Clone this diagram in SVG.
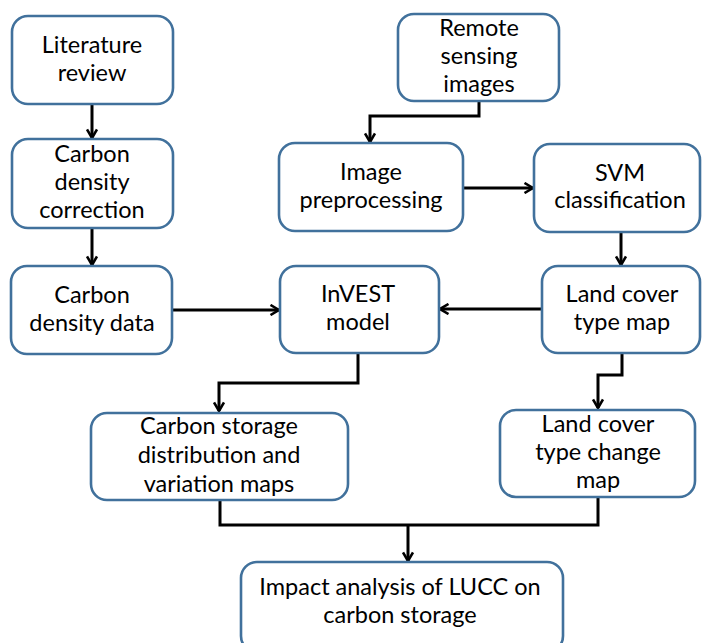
<svg xmlns="http://www.w3.org/2000/svg" width="702" height="643" viewBox="0 0 702 643">
<defs>
<marker id="arr" viewBox="0 0 12 12" refX="10.5" refY="6" markerWidth="12" markerHeight="12" markerUnits="userSpaceOnUse" orient="auto">
<path d="M2,1 L10.5,6 L2,11" fill="none" stroke="#000" stroke-width="2.6"/>
</marker>
<style>
.box{fill:#fff;stroke:#41719C;stroke-width:2.6}
.t{font-family:Lato,"Liberation Sans",sans-serif;font-size:23.5px;fill:#000;text-anchor:middle}
.c{fill:none;stroke:#000;stroke-width:3;marker-end:url(#arr)}
.l{fill:none;stroke:#000;stroke-width:3}
</style>
</defs>
<rect width="702" height="643" fill="#fff"/>
<g id="connectors">
<path class="c" d="M92,104 V138"/>
<path class="c" d="M92,228 V265"/>
<path class="c" d="M479,101 V116 H370 V142"/>
<path class="c" d="M463,188 H533"/>
<path class="c" d="M621,232 V265"/>
<path class="c" d="M172,310 H279"/>
<path class="c" d="M542,309 H440"/>
<path class="c" d="M358,353 V383 H219 V411"/>
<path class="c" d="M622,353 V375 H598 V408"/>
<path class="l" d="M220,500 V525 H598 V497"/>
<path class="c" d="M408,525 V561"/>
</g>
<g id="literature">
<rect class="box" x="12" y="16" width="161" height="88" rx="16"/>
<text class="t" x="92" y="53">Literature</text>
<text class="t" x="92" y="81">review</text>
</g>
<g id="carbon-density-correction">
<rect class="box" x="12" y="139" width="161" height="89" rx="16"/>
<text class="t" x="92" y="162">Carbon</text>
<text class="t" x="92" y="190">density</text>
<text class="t" x="92" y="218">correction</text>
</g>
<g id="remote-sensing">
<rect class="box" x="398" y="14" width="161" height="87" rx="16"/>
<text class="t" x="479" y="36">Remote</text>
<text class="t" x="479" y="64">sensing</text>
<text class="t" x="479" y="92">images</text>
</g>
<g id="image-preprocessing">
<rect class="box" x="279" y="143" width="184" height="88" rx="16"/>
<text class="t" x="371" y="180">Image</text>
<text class="t" x="371" y="208">preprocessing</text>
</g>
<g id="svm">
<rect class="box" x="534" y="144" width="166" height="88" rx="16"/>
<text class="t" x="620" y="181">SVM</text>
<text class="t" x="620" y="208">classification</text>
</g>
<g id="carbon-density-data">
<rect class="box" x="11" y="266" width="161" height="88" rx="16"/>
<text class="t" x="92" y="303">Carbon</text>
<text class="t" x="92" y="331">density data</text>
</g>
<g id="invest">
<rect class="box" x="280" y="266" width="159" height="87" rx="16"/>
<text class="t" x="358" y="302">InVEST</text>
<text class="t" x="358" y="330">model</text>
</g>
<g id="land-cover-map">
<rect class="box" x="542" y="266" width="158" height="87" rx="16"/>
<text class="t" x="622" y="302">Land cover</text>
<text class="t" x="622" y="330">type map</text>
</g>
<g id="carbon-storage-maps">
<rect class="box" x="91" y="413" width="257" height="87" rx="16"/>
<text class="t" x="219" y="434">Carbon storage</text>
<text class="t" x="219" y="463">distribution and</text>
<text class="t" x="219" y="492">variation maps</text>
</g>
<g id="land-cover-change">
<rect class="box" x="500" y="410" width="195" height="87" rx="16"/>
<text class="t" x="598" y="432">Land cover</text>
<text class="t" x="598" y="460">type change</text>
<text class="t" x="598" y="488">map</text>
</g>
<g id="impact">
<rect class="box" x="241" y="562" width="322" height="90" rx="16"/>
<text class="t" x="400" y="595">Impact analysis of LUCC on</text>
<text class="t" x="400" y="623">carbon storage</text>
</g>
</svg>
